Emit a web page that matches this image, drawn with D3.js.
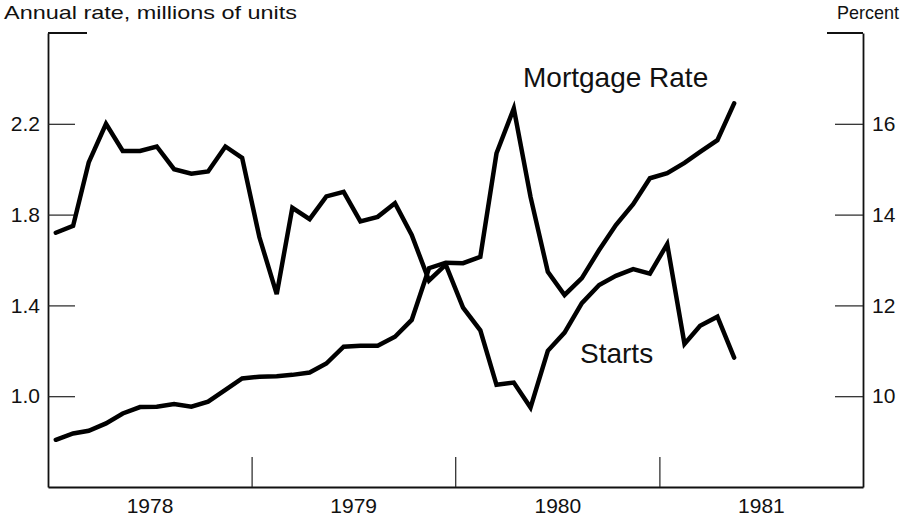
<!DOCTYPE html>
<html>
<head>
<meta charset="utf-8">
<script src="https://cdn.jsdelivr.net/npm/d3@7"></script>
<style>
  body { margin: 0; background: #fff; }
  text { font-family: "Liberation Sans", Arial, Helvetica, sans-serif; fill: #111; }
</style>
</head>
<body>
<svg id="chart" width="902" height="523"></svg>
<script>
// monthly data, Jan 1978 .. May 1981
const firstMonth = new Date(1978, 0, 1);

// housing starts, annual rate, millions of units (left axis)
const startsValues = [
    1.72, 1.75, 2.03, 2.20, 2.08, 2.08, 2.10, 2.00, 1.98, 1.99, 2.10, 2.05,
    1.70, 1.45, 1.83, 1.78, 1.88, 1.90, 1.77, 1.79, 1.85, 1.71, 1.51, 1.58,
    1.39, 1.29, 1.05, 1.06, 0.95, 1.20, 1.28, 1.41, 1.49, 1.53, 1.56, 1.54,
    1.67, 1.23, 1.31, 1.35, 1.17
];

// mortgage rate, percent (right axis)
const mortgageValues = [
    9.04, 9.18, 9.24, 9.40, 9.62, 9.76, 9.77, 9.83, 9.77, 9.88, 10.14, 10.39,
    10.43, 10.44, 10.47, 10.52, 10.72, 11.09, 11.11, 11.11, 11.31, 11.68, 12.82, 12.94,
    12.93, 13.07, 15.35, 16.34, 14.39, 12.74, 12.23, 12.60, 13.22, 13.77, 14.23, 14.80,
    14.91, 15.14, 15.38, 15.64, 16.45
];

const leftTicks = [1.0, 1.4, 1.8, 2.2];
const rightTicks = [10, 12, 14, 16];
const yearLabels = [1978, 1979, 1980, 1981];

// layout
const margin = { top: 33, right: 39, bottom: 36, left: 48 };
const width = 902 - margin.left - margin.right;
const height = 523 - margin.top - margin.bottom;

const svg = d3.select("#chart");
const g = svg.append("g")
    .attr("transform", "translate(" + margin.left + "," + margin.top + ")");

// scales
const x = d3.scaleTime()
    .domain([new Date(1978, 0, 1), new Date(1982, 0, 1)])
    .range([0, width]);
const yLeft = d3.scaleLinear().domain([0.6, 2.6]).range([height, 0]);
const yRight = d3.scaleLinear().domain([8, 18]).range([height, 0]);

// mid-month dates for each observation
const dates = startsValues.map((d, i) => d3.timeDay.offset(d3.timeMonth.offset(firstMonth, i), 14));

// left axis, ticks point inward
const leftAxis = g.append("g")
    .call(d3.axisLeft(yLeft).tickValues(leftTicks).tickFormat(d3.format(".1f"))
        .tickSizeInner(-27).tickSizeOuter(0).tickPadding(8));

// right axis
const rightAxis = g.append("g")
    .attr("transform", "translate(" + width + ",0)")
    .call(d3.axisRight(yRight).tickValues(rightTicks).tickFormat(d3.format("d"))
        .tickSizeInner(-28).tickSizeOuter(0).tickPadding(9));

// bottom axis: year boundary ticks going up
const bottomAxis = g.append("g")
    .attr("transform", "translate(0," + height + ")")
    .call(d3.axisBottom(x).tickValues(d3.timeYear.range(new Date(1979, 0, 1), new Date(1982, 0, 1)))
        .tickFormat("").tickSizeInner(-30).tickSizeOuter(0));

// year labels centred on each year
const yearAxis = g.append("g")
    .attr("transform", "translate(0," + height + ")")
    .call(d3.axisBottom(x).tickValues(yearLabels.map(y => new Date(y, 6, 2)))
        .tickFormat(d3.timeFormat("%Y")).tickSize(0).tickPadding(11));
yearAxis.select(".domain").remove();

[leftAxis, rightAxis, bottomAxis, yearAxis].forEach(a => {
    a.selectAll("text").style("font-size", "21px").attr("fill", "#111")
        .style("font-family", "'Liberation Sans', Arial, sans-serif");
    a.selectAll("line").attr("stroke", "#222").attr("stroke-width", 1.2);
    a.select(".domain").attr("stroke", "#111").attr("stroke-width", 1.8);
});

// short caps on top of each vertical axis
g.append("line").attr("x1", 0).attr("x2", 39).attr("y1", 0).attr("y2", 0)
    .attr("stroke", "#111").attr("stroke-width", 1.8);
g.append("line").attr("x1", width - 36).attr("x2", width).attr("y1", 0).attr("y2", 0)
    .attr("stroke", "#111").attr("stroke-width", 1.8);

// lines
const startsLine = d3.line()
    .x((d, i) => x(dates[i]))
    .y(d => yLeft(d));
const mortgageLine = d3.line()
    .x((d, i) => x(dates[i]))
    .y(d => yRight(d));

g.append("path").datum(mortgageValues)
    .attr("d", mortgageLine)
    .attr("fill", "none").attr("stroke", "#000").attr("stroke-width", 4.5)
    .attr("stroke-linejoin", "miter").attr("stroke-linecap", "round");

g.append("path").datum(startsValues)
    .attr("d", startsLine)
    .attr("fill", "none").attr("stroke", "#000").attr("stroke-width", 4.5)
    .attr("stroke-linejoin", "miter").attr("stroke-linecap", "round");

// series labels
svg.append("text").attr("x", 523).attr("y", 87).style("font-size", "28px").text("Mortgage Rate");
svg.append("text").attr("x", 580).attr("y", 363).style("font-size", "28px").text("Starts");

// axis titles
svg.append("text").attr("x", 4).attr("y", 19).style("font-size", "19px")
    .attr("textLength", 293).attr("lengthAdjust", "spacingAndGlyphs")
    .text("Annual rate, millions of units");
svg.append("text").attr("x", 899).attr("y", 19).attr("text-anchor", "end").style("font-size", "19px")
    .attr("textLength", 62).attr("lengthAdjust", "spacingAndGlyphs")
    .text("Percent");
</script>
</body>
</html>
